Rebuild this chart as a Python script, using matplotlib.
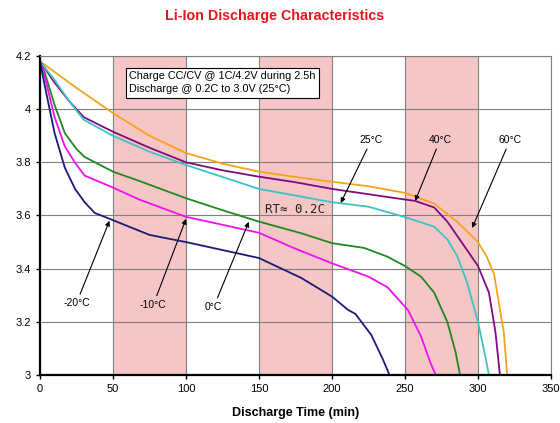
import matplotlib
matplotlib.use('Agg')
import matplotlib.pyplot as plt

matplotlib.rcParams['font.family'] = ['Liberation Sans', 'DejaVu Sans']

# discharge curves: time [min], voltage [V]
t_60 = [0, 10, 25, 50, 75, 100, 125, 150, 175, 200, 225, 250, 270, 286, 300, 306, 311, 314, 317.7, 320]
v_60 = [4.18, 4.14, 4.08, 3.985, 3.90, 3.835, 3.795, 3.765, 3.745, 3.727, 3.71, 3.685, 3.645, 3.575, 3.50, 3.445, 3.38, 3.28, 3.16, 3.0]

t_40 = [0, 5, 10, 20, 30, 50, 75, 100, 125, 150, 175, 200, 225, 250, 257, 270, 279, 290, 300, 307.5, 312, 315]
v_40 = [4.18, 4.14, 4.10, 4.03, 3.97, 3.915, 3.855, 3.80, 3.77, 3.746, 3.725, 3.70, 3.68, 3.66, 3.655, 3.63, 3.577, 3.49, 3.41, 3.31, 3.16, 3.0]

t_25 = [0, 5, 10, 20, 30, 50, 75, 100, 125, 150, 175, 200, 225, 250, 270, 279, 286, 292.7, 300, 305, 307.5]
v_25 = [4.18, 4.145, 4.11, 4.03, 3.96, 3.90, 3.84, 3.79, 3.745, 3.70, 3.675, 3.65, 3.633, 3.594, 3.558, 3.51, 3.445, 3.345, 3.20, 3.07, 3.0]

t_0 = [0, 3.4, 10, 17, 25, 30.6, 50, 68, 100, 125, 150, 179, 200, 222, 238, 250, 261, 270, 279, 284.7, 287.7]
v_0 = [4.18, 4.135, 4.016, 3.91, 3.85, 3.82, 3.765, 3.73, 3.665, 3.62, 3.577, 3.533, 3.496, 3.478, 3.445, 3.41, 3.37, 3.31, 3.20, 3.085, 3.0]

t_m10 = [0, 3.4, 10, 17, 23.8, 30.6, 50, 68, 100, 125, 150, 175, 200, 225, 238, 252, 261, 267.5, 271]
v_m10 = [4.18, 4.12, 3.97, 3.86, 3.80, 3.75, 3.705, 3.66, 3.595, 3.565, 3.535, 3.475, 3.42, 3.37, 3.33, 3.245, 3.145, 3.045, 3.0]

t_m20 = [0, 3.4, 10, 17, 24, 30.6, 37.4, 48.8, 75, 100, 125, 150, 179, 200, 211, 216, 227, 235, 239.4]
v_m20 = [4.18, 4.085, 3.91, 3.78, 3.70, 3.65, 3.61, 3.585, 3.527, 3.50, 3.47, 3.44, 3.365, 3.295, 3.245, 3.23, 3.15, 3.057, 3.0]

x_ticks = [0, 50, 100, 150, 200, 250, 300, 350]
y_ticks = [3.0, 3.2, 3.4, 3.6, 3.8, 4.0, 4.2]
y_labels = ['3', '3.2', '3.4', '3.6', '3.8', '4', '4.2']
bands = [(50, 100), (150, 200), (250, 300)]

fig = plt.figure(figsize=(5.6, 4.23), dpi=100)
ax = fig.add_axes([0.0714, 0.1135, 0.9125, 0.7541])

for a, b in bands:
    ax.axvspan(a, b, color='#f6c6c6', zorder=0, lw=0)

ax.set_axisbelow(True)
ax.grid(True, color='#7f7f7f', lw=0.8)

ax.plot(t_60, v_60, color='#f5a41c', lw=1.3)
ax.plot(t_40, v_40, color='#800a80', lw=1.3)
ax.plot(t_25, v_25, color='#3cc4c4', lw=1.3)
ax.plot(t_0, v_0, color='#1e8a1e', lw=1.3)
ax.plot(t_m10, v_m10, color='#f010f0', lw=1.3)
ax.plot(t_m20, v_m20, color='#1c1a7a', lw=1.3)

ax.set_xlim(0, 350)
ax.set_ylim(3.0, 4.2)
ax.set_xticks(x_ticks)
ax.set_yticks(y_ticks)
ax.set_yticklabels(y_labels)
ax.tick_params(labelsize=8, length=3, width=1, direction='out')

for s in ['left', 'bottom']:
    ax.spines[s].set_color('black')
    ax.spines[s].set_linewidth(1.6)
for s in ['top', 'right']:
    ax.spines[s].set_color('#7f7f7f')
    ax.spines[s].set_linewidth(0.8)

ax.set_xlabel('Discharge Time (min)', fontsize=9, fontweight='bold', labelpad=9)
fig.text(0.49, 0.962, 'Li-Ion Discharge Characteristics', color='#e8141c',
         fontsize=10.3, fontweight='bold', ha='center', va='center')

ax.text(61, 4.1, 'Charge CC/CV @ 1C/4.2V during 2.5h\nDischarge @ 0.2C to 3.0V (25\u00b0C)',
        fontsize=7.8, va='center', ha='left', linespacing=1.45,
        bbox=dict(boxstyle='square,pad=0.3', fc='white', ec='black', lw=0.8))

ax.text(154, 3.622, 'RT\u2248 0.2C', fontsize=9, family='DejaVu Sans Mono', color='#222222',
        va='center', ha='left')

arrow = dict(arrowstyle='-|>', color='black', lw=0.8, mutation_scale=7, shrinkA=1, shrinkB=0)
labels = [('-20\u00b0C', (25, 3.27), (47.6, 3.58)),
          ('-10\u00b0C', (77.6, 3.264), (100, 3.587)),
          ('0\u00b0C', (119, 3.256), (143, 3.576)),
          ('25\u00b0C', (227, 3.884), (206, 3.647)),
          ('40\u00b0C', (274, 3.884), (257, 3.655)),
          ('60\u00b0C', (322, 3.884), (296, 3.553))]
for txt, pos, tip in labels:
    ax.annotate(txt, xy=tip, xytext=pos, fontsize=7.5, ha='center', va='center',
                arrowprops=arrow)

fig.savefig('out.png', dpi=100)
